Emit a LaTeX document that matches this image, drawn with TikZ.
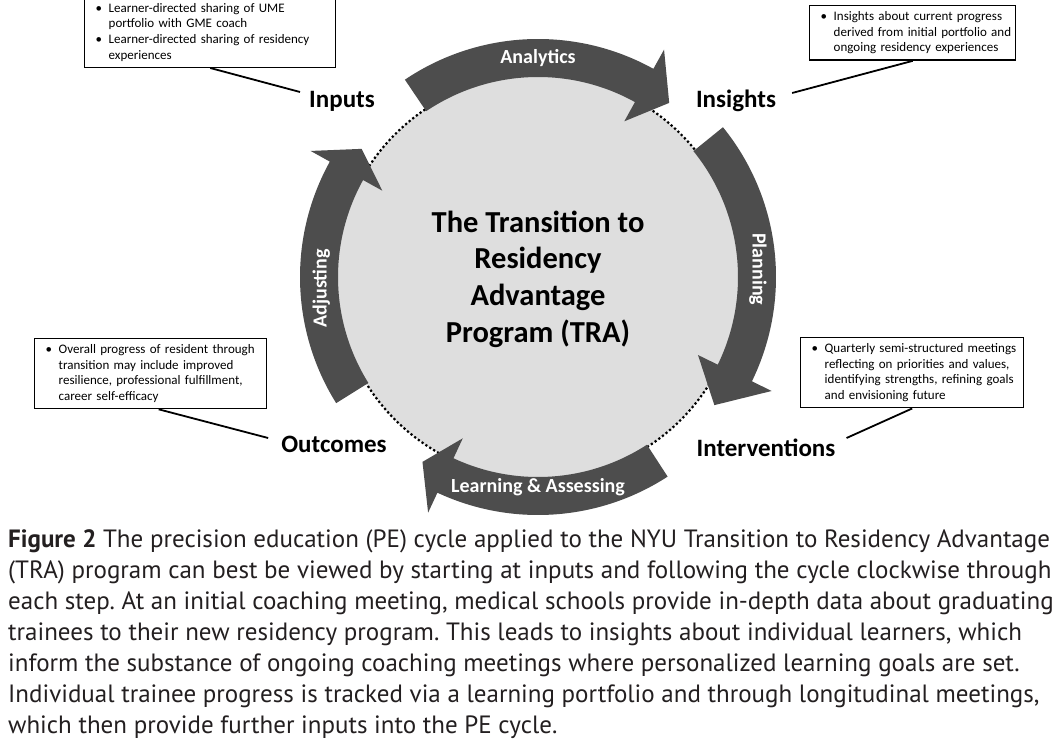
\documentclass[tikz,border=0pt]{standalone}
\usepackage{fontspec}
\setmainfont{Carlito}
\newfontfamily\capfont{PT Sans}
\usetikzlibrary{positioning}
\definecolor{bandgray}{RGB}{77,77,77}
\definecolor{discgray}{RGB}{222,222,222}
\definecolor{capblack}{RGB}{35,31,32}
\frenchspacing

\newcommand{\blt}{\hspace*{7pt}\makebox[13pt][l]{\textbullet}}
\newcommand{\bgap}{\hspace*{20pt}}
% curved band of the cycle: tail angle, back of head, tip
\newcommand{\cyclearrow}[3]{%
  \fill[bandgray] (#1:238) arc[start angle=#1, end angle=#2, radius=238]
    -- (#2:260) -- (#3:218) -- (#2:178) -- (#2:200)
    arc[start angle=#2, end angle=#1, radius=200] -- cycle;}

\begin{document}
\begin{tikzpicture}[x=1pt, y=1pt,
    bandtext/.style={text=white, font=\bfseries\fontsize{20}{23}\selectfont, inner sep=0pt},
    steplabel/.style={font=\bfseries\fontsize{25}{28}\selectfont, inner sep=0pt},
    notebox/.style={draw, line width=1.4pt, fill=white, align=left, inner xsep=4pt,
                    inner ysep=6pt, font=\fontsize{13}{15.6}\selectfont},
    leader/.style={line width=1.8pt}]
  \useasboundingbox (0,0) rectangle (1060,753);
  \fill[white] (0,0) rectangle (1060,753);

  % the cycle
  \begin{scope}[shift={(538,476)}]
    \fill[discgray] (0,0) circle[radius=202];
    \draw[line width=2.2pt, dash pattern=on 2.2pt off 2.4pt] (0,0) circle[radius=202];
    \cyclearrow{124}{61}{53}
    \cyclearrow{39}{-26}{-36}
    \cyclearrow{-57}{-115}{-122}
    \cyclearrow{-148}{-209}{-216}
    \node[bandtext] (analytics) at (90:219) {Analytics};
    \node[bandtext, rotate=-90] (planning) at (2:220) {Planning};
    \node[bandtext] (learning) at (-90:210) {Learning \& Assessing};
    \node[bandtext, rotate=90] (adjusting) at (183:217) {Adjusting};
    \node[align=center, font=\bfseries\fontsize{30.5}{36.7}\selectfont] (tra) at (0,-2)
      {The Transition to\\Residency\\Advantage\\Program (TRA)};
  \end{scope}

  \node[steplabel] (inputs) at (342,652) {Inputs};
  \node[steplabel] (insights) at (736,652) {Insights};
  \node[steplabel] (outcomes) at (334,309) {Outcomes};
  \node[steplabel] (interventions) at (766,305) {Interventions};

  \node[notebox, text width=243pt, anchor=south west] (inputsbox) at (84,685) {%
    \blt Learner-directed sharing of UME\\ \bgap portfolio with GME coach\\
    \blt Learner-directed sharing of residency\\ \bgap experiences};
  \node[notebox, text width=198pt, anchor=north west] (insightsbox) at (809,748) {%
    \blt Insights about current progress\\ \bgap derived from initial portfolio and\\
    \bgap ongoing residency experiences};
  \node[notebox, text width=224pt, anchor=north west] (outcomesbox) at (34,415) {%
    \blt Overall progress of resident through\\ \bgap transition may include improved\\
    \bgap resilience, professional fulfillment,\\ \bgap career self-efficacy};
  \node[notebox, text width=215pt, anchor=north west] (interventionsbox) at (800,416) {%
    \blt Quarterly semi-structured meetings\\ \bgap reflecting on priorities and values,\\
    \bgap identifying strengths, refining goals\\ \bgap and envisioning future};

  \draw[leader] (inputsbox.south) -- ([xshift=-9pt, yshift=9pt]inputs.west);
  \draw[leader] (insightsbox.south) -- ([xshift=16pt, yshift=8pt]insights.east);
  \draw[leader] ([xshift=8pt]outcomesbox.south) -- ([xshift=-13pt, yshift=6pt]outcomes.west);
  \draw[leader] (interventionsbox.south) -- ([xshift=11pt, yshift=10pt]interventions.east);

  % caption
  \node[anchor=north west, align=left, inner sep=0pt, text=capblack,
        font=\capfont\fontsize{25}{31.1}\selectfont] (caption) at (8,224) {%
    \textbf{Figure 2} The precision education (PE) cycle applied to the NYU Transition to Residency Advantage\\
    (TRA) program can best be viewed by starting at inputs and following the cycle clockwise through\\
    each step. At an initial coaching meeting, medical schools provide in-depth data about graduating\\
    trainees to their new residency program. This leads to insights about individual learners, which\\
    inform the substance of ongoing coaching meetings where personalized learning goals are set.\\
    Individual trainee progress is tracked via a learning portfolio and through longitudinal meetings,\\
    which then provide further inputs into the PE cycle.};
\end{tikzpicture}
\end{document}
